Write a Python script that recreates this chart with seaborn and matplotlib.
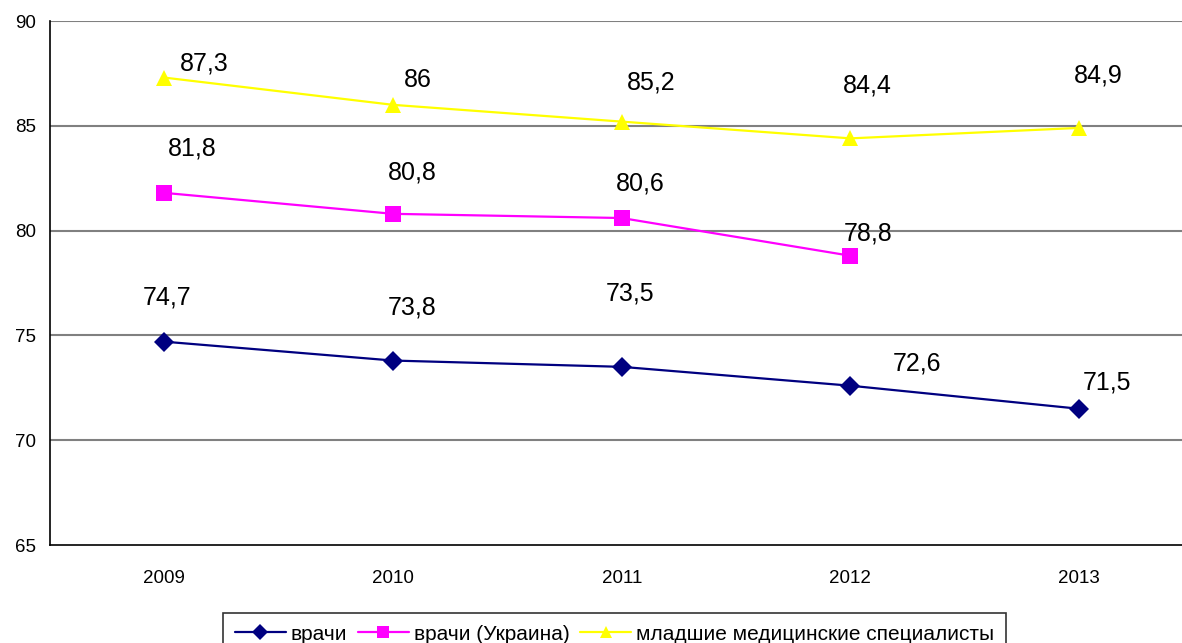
import pandas as pd
import matplotlib.pyplot as plt
import seaborn as sns

years = ["2009", "2010", "2011", "2012", "2013"]
doctors = [74.7, 73.8, 73.5, 72.6, 71.5]
doctors_ua = [81.8, 80.8, 80.6, 78.8, None]
junior = [87.3, 86.0, 85.2, 84.4, 84.9]

names = ["врачи", "врачи (Украина)", "младшие медицинские специалисты"]
colors = ["#000080", "#FF00FF", "#FFFF00"]
markers = ["D", "s", "^"]

# label offsets in points (dx, dy) from each point
offsets = {
    names[0]: [(2, 32), (14, 38), (6, 53), (48, 16), (20, 19)],
    names[1]: [(20, 32), (14, 30), (13, 25), (13, 16), None],
    names[2]: [(29, 10), (18, 18), (21, 28), (12, 38), (14, 38)],
}

rows = []
for name, vals in zip(names, [doctors, doctors_ua, junior]):
    for i, v in enumerate(vals):
        if v is not None:
            rows.append({"pos": i, "value": v, "series": name})
df = pd.DataFrame(rows)

sns.set_style("white")
plt.rcParams["font.family"] = ["Liberation Sans", "DejaVu Sans"]
plt.rcParams["text.color"] = "black"
plt.rcParams["xtick.color"] = "black"
plt.rcParams["ytick.color"] = "black"

fig = plt.figure(figsize=(11.82, 6.43), dpi=100)
ax = fig.add_axes([50 / 1182, 1 - 545 / 643, 1 - 50 / 1182, (545 - 21) / 643])

sns.lineplot(data=df, x="pos", y="value", hue="series", style="series",
             hue_order=names, style_order=names,
             palette=dict(zip(names, colors)), markers=dict(zip(names, markers)),
             dashes=False, markersize=10, linewidth=1.6, markeredgewidth=0,
             ax=ax, legend=True)
for line in ax.lines:
    if line.get_marker() == "^":
        line.set_markersize(12)
    elif line.get_marker() == "s":
        line.set_markersize(11)

for name in names:
    sub = df[df["series"] == name]
    for _, r in sub.iterrows():
        dx, dy = offsets[name][int(r["pos"])]
        ax.annotate(f"{r['value']:g}".replace(".", ","), (r["pos"], r["value"]),
                    xytext=(dx, dy), textcoords="offset points",
                    ha="center", va="center", fontsize=18, color="black")

ax.set_xlim(-0.5, 4.45)
ax.set_ylim(65, 90)
ax.set_yticks([65, 70, 75, 80, 85, 90])
ax.set_xticks(range(5))
ax.set_xticklabels(years)
ax.set_xticks([-0.5, 0.5, 1.5, 2.5, 3.5], minor=True)
ax.tick_params(axis="x", which="major", length=0, pad=18, labelsize=13.5)
ax.tick_params(axis="x", which="minor", length=6, width=1, color="black", direction="out")
ax.tick_params(axis="y", length=6, width=1, color="black", direction="out", labelsize=13.5, pad=4)
ax.set_xlabel("")
ax.set_ylabel("")
for y in [70, 75, 80, 85, 90]:
    ax.axhline(y, color="#808080", linewidth=1.5, zorder=0)
for s in ["top", "right"]:
    ax.spines[s].set_visible(False)
for s in ["left", "bottom"]:
    ax.spines[s].set_color("black")
    ax.spines[s].set_linewidth(1.2)

handles, labels = ax.get_legend_handles_labels()
ax.get_legend().remove()
for h in handles:
    h.set_markersize(8)
leg = fig.legend(handles, labels, loc="lower center", bbox_to_anchor=(0.52, -0.019),
                 ncol=3, frameon=True, fancybox=False, fontsize=15,
                 handlelength=2.45, handletextpad=0.25, columnspacing=0.5,
                 borderpad=0.55, borderaxespad=0)
leg.get_frame().set_edgecolor("black")
leg.get_frame().set_linewidth(1.2)

fig.savefig("out.png", dpi=100)
